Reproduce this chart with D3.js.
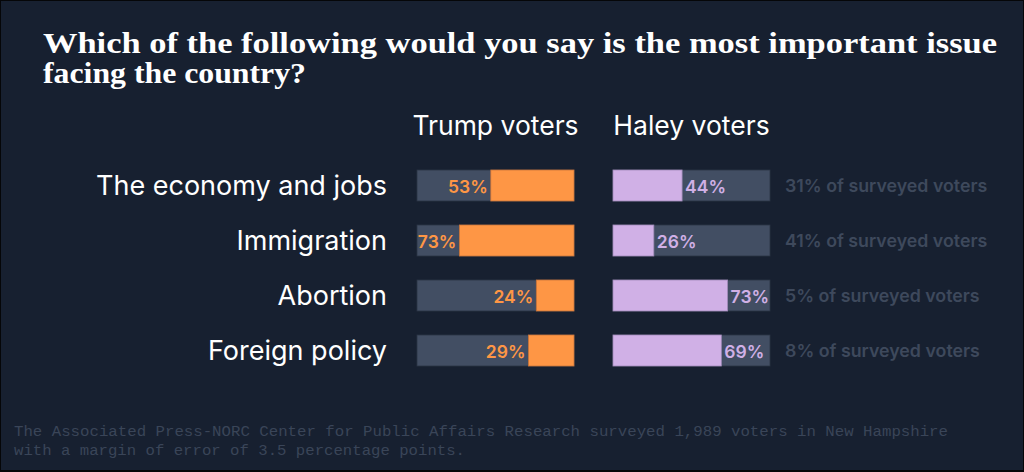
<!DOCTYPE html>
<html>
<head>
<meta charset="utf-8">
<script src="https://cdn.jsdelivr.net/npm/d3@7"></script>
<style>
html,body{margin:0;padding:0;background:#000;}
svg{display:block;}
</style>
</head>
<body>
<svg id="chart" width="1024" height="472"></svg>
<script>
const titleLines = ["Which of the following would you say is the most important issue", "facing the country?"];
const groups = ["Trump voters", "Haley voters"];
const categories = ["The economy and jobs", "Immigration", "Abortion", "Foreign policy"];
const trumpValues = [53, 73, 24, 29];
const haleyValues = [44, 26, 73, 69];
const shareOfVoters = [31, 41, 5, 8];
const footnoteLines = ["The Associated Press-NORC Center for Public Affairs Research surveyed 1,989 voters in New Hampshire", "with a margin of error of 3.5 percentage points."];

const svg = d3.select("#chart");
const W = 1024, H = 472;
const bg = "#172030", track = "#424e63", orange = "#fe9645", purple = "#d0b0e6", muted = "#3e495c";

svg.append("rect").attr("x",0).attr("y",0).attr("width",W).attr("height",H).attr("fill","#050608");
svg.append("rect").attr("x",1).attr("y",1).attr("width",W-2).attr("height",H-3).attr("fill",bg);

// Title
const titleWidths = [954, 263];
svg.selectAll("text.title").data(titleLines).join("text").attr("class","title")
  .attr("x",43).attr("y",(d,i)=>53+i*30)
  .attr("fill","#ffffff")
  .attr("font-family","'Liberation Serif','DejaVu Serif',serif").attr("font-weight","700").attr("font-size",30)
  .attr("textLength",(d,i)=>titleWidths[i]).attr("lengthAdjust","spacingAndGlyphs")
  .text(d=>d);

// Scales
const barW = 157;
const x = d3.scaleLinear().domain([0,100]).range([0,barW]);
const y = d3.scaleBand().domain(categories).range([170,366]).paddingInner(24/55).paddingOuter(0);
const colX = d3.scaleOrdinal().domain(groups).range([417,613]);
const sans = "'Inter','Roboto','Noto Sans',sans-serif";

// Headers
svg.selectAll("text.hdr").data(groups).join("text").attr("class","hdr")
  .attr("x",d=>colX(d)+barW/2).attr("y",135).attr("text-anchor","middle")
  .attr("fill","#ffffff").attr("font-family",sans).attr("font-size",26.5).text(d=>d);

// Category labels
svg.selectAll("text.cat").data(categories).join("text").attr("class","cat")
  .attr("x",387).attr("y",d=>y(d)+y.bandwidth()/2+9).attr("text-anchor","end")
  .attr("fill","#ffffff").attr("font-family",sans).attr("font-size",27).text(d=>d);

const bw = y.bandwidth();
// Trump
const tx0 = colX(groups[0]);
svg.selectAll("rect.ttrack").data(categories).join("rect").attr("class","ttrack")
  .attr("x",tx0).attr("y",d=>y(d)).attr("width",barW).attr("height",bw)
  .attr("fill",track).attr("stroke","#2c3545").attr("stroke-width",0.8);
svg.selectAll("rect.tbar").data(categories).join("rect").attr("class","tbar")
  .attr("x",(d,i)=>tx0+barW-x(trumpValues[i])).attr("y",d=>y(d))
  .attr("width",(d,i)=>x(trumpValues[i])).attr("height",bw)
  .attr("fill",orange).attr("stroke","#c8733a").attr("stroke-width",0.8);
svg.selectAll("text.tlab").data(categories).join("text").attr("class","tlab")
  .attr("x",(d,i)=>tx0+barW-x(trumpValues[i])-3).attr("y",d=>y(d)+bw/2+7)
  .attr("text-anchor","end").attr("fill",orange).attr("font-family",sans)
  .attr("font-weight","600").attr("font-size",17.5).text((d,i)=>trumpValues[i]+"%");

// Haley
const hx0 = colX(groups[1]);
svg.selectAll("rect.htrack").data(categories).join("rect").attr("class","htrack")
  .attr("x",hx0).attr("y",d=>y(d)).attr("width",barW).attr("height",bw)
  .attr("fill",track).attr("stroke","#2c3545").attr("stroke-width",0.8);
svg.selectAll("rect.hbar").data(categories).join("rect").attr("class","hbar")
  .attr("x",hx0).attr("y",d=>y(d))
  .attr("width",(d,i)=>x(haleyValues[i])).attr("height",bw)
  .attr("fill",purple).attr("stroke","#a08ab8").attr("stroke-width",0.8);
svg.selectAll("text.hlab").data(categories).join("text").attr("class","hlab")
  .attr("x",(d,i)=>hx0+x(haleyValues[i])+3).attr("y",d=>y(d)+bw/2+7)
  .attr("text-anchor","start").attr("fill",purple).attr("font-family",sans)
  .attr("font-weight","600").attr("font-size",17.5).text((d,i)=>haleyValues[i]+"%");

// Share annotation
svg.selectAll("text.share").data(categories).join("text").attr("class","share")
  .attr("x",785).attr("y",d=>y(d)+bw/2+6)
  .attr("fill",muted).attr("font-family",sans).attr("font-weight","600").attr("font-size",17.8)
  .text((d,i)=>shareOfVoters[i]+"% of surveyed voters");

// Footnote
const fnWidths = [934, 451];
svg.selectAll("text.fn").data(footnoteLines).join("text").attr("class","fn")
  .attr("x",14).attr("y",(d,i)=>436+i*19)
  .attr("fill","#3a4558").attr("font-family","'Liberation Mono','DejaVu Sans Mono',monospace")
  .attr("font-size",15.5)
  .attr("textLength",(d,i)=>fnWidths[i]).attr("lengthAdjust","spacingAndGlyphs")
  .text(d=>d);
</script>
</body>
</html>
